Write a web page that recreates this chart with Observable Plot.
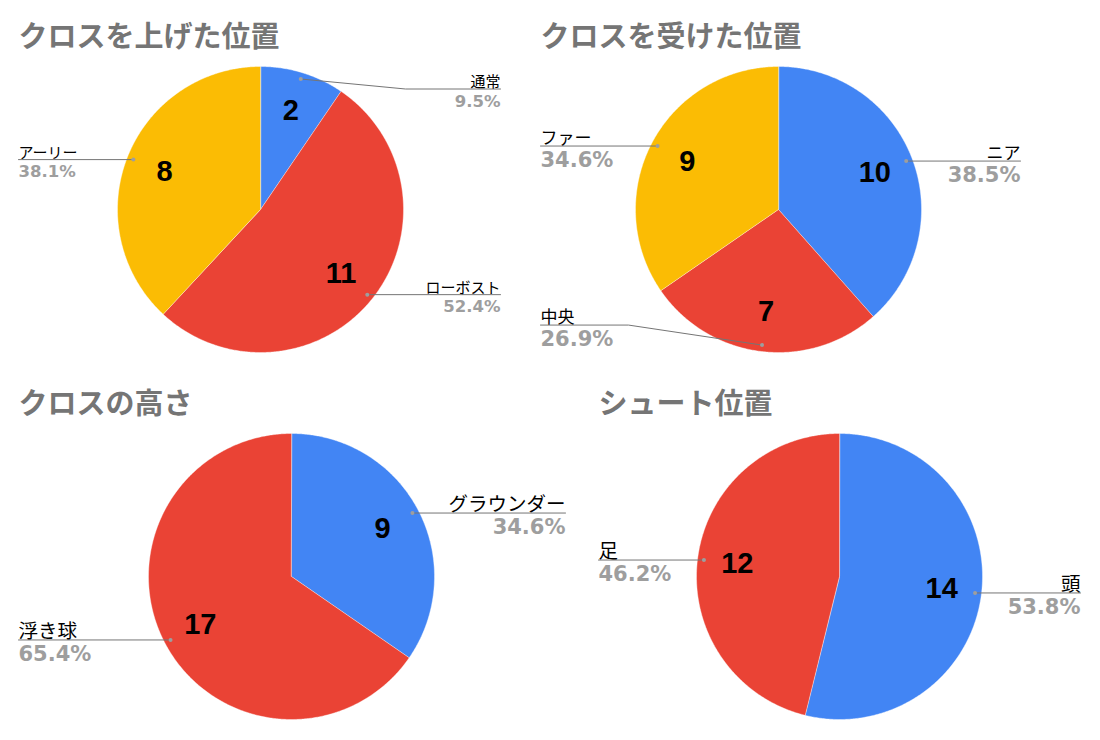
<!DOCTYPE html>
<html><head><meta charset="utf-8">
<script src="https://cdn.jsdelivr.net/npm/d3@7"></script>
<script src="https://cdn.jsdelivr.net/npm/@observablehq/plot@0.6"></script>
<style>body{margin:0;background:#fff} #chart{width:1100px;height:740px}</style>
</head><body><div id="chart"></div>
<script>
// ---- data ----
const titles = ["クロスを上げた位置", "クロスを受けた位置", "クロスの高さ", "シュート位置"];
const chart1Labels = ["通常", "ローボスト", "アーリー"];
const chart1Values = [2, 11, 8];
const chart2Labels = ["ニア", "中央", "ファー"];
const chart2Values = [10, 7, 9];
const chart3Labels = ["グラウンダー", "浮き球"];
const chart3Values = [9, 17];
const chart4Labels = ["頭", "足"];
const chart4Values = [14, 12];
const sliceColors = ["#4285F4", "#EA4335", "#FBBC04"];

// ---- layout (pixels) ----
const layout = [
  {cx: 260, cy: 209, r: 143, tx: 18, ty: 37, left: 18, right: 500, nameSize: 15, pctSize: 16.5, leaderDy: [10, 0, 0]},
  {cx: 778, cy: 209, r: 143, tx: 540, ty: 37, left: 540, right: 1020, nameSize: 17, pctSize: 21, leaderDy: [0, -20, 0]},
  {cx: 291, cy: 576, r: 143, tx: 18, ty: 404, left: 18, right: 565, nameSize: 19.5, pctSize: 21, leaderDy: [0, 0]},
  {cx: 839, cy: 576, r: 143, tx: 598, ty: 404, left: 598, right: 1080, nameSize: 19.5, pctSize: 21, leaderDy: [0, 0]}
];

const charts = [
  {labels: chart1Labels, values: chart1Values},
  {labels: chart2Labels, values: chart2Values},
  {labels: chart3Labels, values: chart3Values},
  {labels: chart4Labels, values: chart4Values}
];

const slicePts = [], valueLabels = [], leaderPts = [], leaderDots = [], nameLabels = [], pctLabels = [], titleRows = [];
charts.forEach((c, ci) => {
  const L = layout[ci];
  titleRows.push({x: L.tx, y: L.ty, text: titles[ci]});
  const arcs = d3.pie().sort(null)(c.values);
  const total = d3.sum(c.values);
  const pos = (a, rr) => [L.cx + rr * Math.sin(a), L.cy - rr * Math.cos(a)];
  arcs.forEach((arc, i) => {
    const key = ci + "-" + i;
    slicePts.push({key, slot: i, x: L.cx, y: L.cy});
    const n = Math.max(2, Math.ceil((arc.endAngle - arc.startAngle) / (Math.PI / 360)));
    for (let k = 0; k <= n; k++) {
      const a = arc.startAngle + (arc.endAngle - arc.startAngle) * k / n;
      const [x, y] = pos(a, L.r);
      slicePts.push({key, slot: i, x, y});
    }
    const mid = (arc.startAngle + arc.endAngle) / 2;
    const [vx, vy] = pos(mid, L.r * 0.72);
    valueLabels.push({x: vx, y: vy, text: String(c.values[i])});
    const [dx, dy] = pos(mid, L.r * 0.955);
    leaderDots.push({x: dx, y: dy});
    const rightSide = Math.sin(mid) > 0;
    const lineY = dy + (L.leaderDy[i] || 0);
    const edge = rightSide ? L.right : L.left;
    leaderPts.push({key, x: dx, y: dy});
    if (L.leaderDy[i]) leaderPts.push({key, x: edge + (rightSide ? -95 : 88), y: lineY});
    leaderPts.push({key, x: edge, y: lineY});
    const anchor = rightSide ? "end" : "start";
    nameLabels.push({ci, x: edge, y: lineY - 2, text: c.labels[i], anchor});
    pctLabels.push({ci, x: edge, y: lineY + 6, text: (c.values[i] / total * 100).toFixed(1) + "%", anchor});
  });
});

const textMarks = [];
layout.forEach((L, ci) => {
  for (const anchor of ["start", "end"]) {
    textMarks.push(Plot.text(nameLabels.filter(d => d.ci === ci && d.anchor === anchor), {
      x: "x", y: "y", text: "text", textAnchor: anchor, lineAnchor: "bottom",
      fontSize: L.nameSize, fontFamily: "'Noto Sans CJK JP', sans-serif", fill: "#000"
    }));
    textMarks.push(Plot.text(pctLabels.filter(d => d.ci === ci && d.anchor === anchor), {
      x: "x", y: "y", text: "text", textAnchor: anchor, lineAnchor: "top",
      fontSize: L.pctSize, fontWeight: "bold", fontFamily: "'DejaVu Sans', sans-serif", fill: "#9e9e9e"
    }));
  }
});

const plot = Plot.plot({
  width: 1100, height: 740, margin: 0,
  x: {domain: [0, 1100], range: [0, 1100], axis: null},
  y: {domain: [0, 740], range: [0, 740], axis: null},
  color: {domain: [0, 1, 2], range: sliceColors},
  style: {background: "#fff"},
  marks: [
    Plot.line(slicePts, {x: "x", y: "y", z: "key", fill: "slot", stroke: "#fff", strokeWidth: 0.4, curve: "linear-closed"}),
    Plot.line(leaderPts, {x: "x", y: "y", z: "key", stroke: "#757575", strokeWidth: 1}),
    Plot.dot(leaderDots, {x: "x", y: "y", r: 2, fill: "#9e9e9e", stroke: null}),
    Plot.text(valueLabels, {x: "x", y: "y", text: "text", fontSize: 29, fontWeight: "bold",
      fontFamily: "'Liberation Sans', Arial, sans-serif", fill: "#000"}),
    ...textMarks,
    Plot.text(titleRows, {x: "x", y: "y", text: "text", textAnchor: "start", fontSize: 29, fontWeight: "bold",
      fontFamily: "'Noto Sans CJK JP', sans-serif", fill: "#757575"})
  ]
});
document.getElementById("chart").appendChild(plot);
</script>
</body></html>
